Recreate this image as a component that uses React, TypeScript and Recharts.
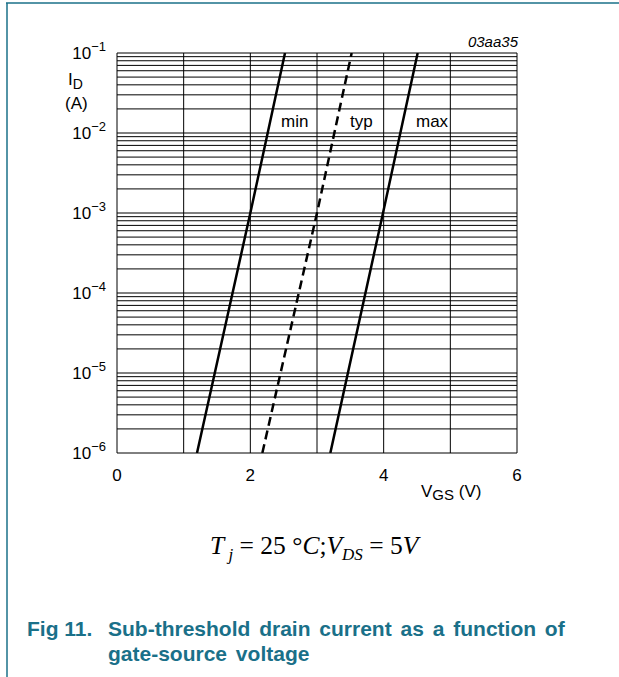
import React from 'react';
import { LineChart, Line, XAxis, YAxis, CartesianGrid } from 'recharts';

const minCurve = [
  { vgs: 1.2, id: 1e-6 },
  { vgs: 2.0, id: 1e-3 },
  { vgs: 2.52, id: 1e-1 },
];
const typCurve = [
  { vgs: 2.18, id: 1e-6 },
  { vgs: 3.0, id: 1e-3 },
  { vgs: 3.52, id: 1e-1 },
];
const maxCurve = [
  { vgs: 3.2, id: 1e-6 },
  { vgs: 3.99, id: 1e-3 },
  { vgs: 4.51, id: 1e-1 },
];

const xTicks = [0, 1, 2, 3, 4, 5, 6];
const xLabelTicks = [0, 2, 4, 6];
const decades = [-6, -5, -4, -3, -2, -1];
const mantissas = [1, 2, 3, 4, 5, 6, 7, 8, 9];
const yTicks: number[] = [];
decades.forEach((e) => {
  mantissas.forEach((m) => {
    if (e === -1 && m > 1) return;
    yTicks.push(Number((m * Math.pow(10, e)).toPrecision(3)));
  });
});

const FONT = 'Liberation Sans, Arial, sans-serif';
const TEAL = '#1a7089';

const YTick = (props: any) => {
  const { x, y, payload } = props;
  const v = payload.value;
  const lg = Math.log10(v);
  if (Math.abs(lg - Math.round(lg)) > 1e-6) return null;
  return (
    <text x={x - 3} y={y + 6} textAnchor="end" fontFamily={FONT} fontSize={17} fill="#000">
      10<tspan dy={-8} fontSize={13}>{'\u2212' + Math.abs(Math.round(lg))}</tspan>
    </text>
  );
};

const XTick = (props: any) => {
  const { x, y, payload } = props;
  if (!xLabelTicks.includes(payload.value)) return null;
  return (
    <text x={x} y={y + 20} textAnchor="middle" fontFamily={FONT} fontSize={17} fill="#000">
      {payload.value}
    </text>
  );
};

export default function App() {
  return (
    <div style={{ position: 'absolute', left: 0, top: 0, width: 619, height: 677, background: '#fff' }}>
      <LineChart
        width={619}
        height={500}
        margin={{ top: 53, right: 102, bottom: 17, left: 57 }}
        style={{ position: 'absolute', left: 0, top: 0 }}
      >
        <CartesianGrid stroke="#000" strokeWidth={1} />
        <XAxis
          dataKey="vgs"
          type="number"
          domain={[0, 6]}
          ticks={xTicks}
          tick={<XTick />}
          tickLine={false}
          axisLine={false}
          height={30}
          interval={0}
        />
        <YAxis
          dataKey="id"
          type="number"
          scale="log"
          domain={[1e-6, 1e-1]}
          allowDataOverflow
          ticks={yTicks}
          tick={<YTick />}
          tickLine={false}
          axisLine={false}
          width={60}
          interval={0}
        />
        <Line data={minCurve} dataKey="id" stroke="#000" strokeWidth={2.5} dot={false} isAnimationActive={false} type="linear" />
        <Line data={typCurve} dataKey="id" stroke="#000" strokeWidth={2.5} strokeDasharray="9 5" dot={false} isAnimationActive={false} type="linear" />
        <Line data={maxCurve} dataKey="id" stroke="#000" strokeWidth={2.5} dot={false} isAnimationActive={false} type="linear" />
      </LineChart>
      <svg width={619} height={677} style={{ position: 'absolute', left: 0, top: 0, pointerEvents: 'none' }}>
        <line x1={6} y1={3} x2={619} y2={3} stroke={TEAL} strokeWidth={1.5} />
        <line x1={7} y1={3} x2={7} y2={677} stroke={TEAL} strokeWidth={1.5} />
        <text x={518} y={47} textAnchor="end" fontFamily={FONT} fontSize={15} fontStyle="italic" fill="#000">03aa35</text>
        <text x={68} y={85} fontFamily={FONT} fontSize={17} fill="#000">
          I<tspan dy={4} fontSize={14}>D</tspan>
        </text>
        <text x={65} y={109} fontFamily={FONT} fontSize={17} fill="#000">(A)</text>
        <text x={281} y={127} fontFamily={FONT} fontSize={17} fill="#000">min</text>
        <text x={350} y={127} fontFamily={FONT} fontSize={17} fill="#000">typ</text>
        <text x={416} y={127} fontFamily={FONT} fontSize={17} fill="#000">max</text>
        <text x={421} y={497} fontFamily={FONT} fontSize={17} fill="#000">
          V<tspan dy={3} fontSize={15}>GS</tspan><tspan dy={-3}> (V)</tspan>
        </text>
        <text x={210} y={554} fontFamily="Liberation Serif, Times New Roman, serif" fontSize={25.5} fill="#000">
          <tspan fontStyle="italic">T</tspan>
          <tspan dy={6} fontSize={17} fontStyle="italic"> j</tspan>
          <tspan dy={-6}> = 25 °</tspan>
          <tspan fontStyle="italic">C</tspan>
          <tspan>;</tspan>
          <tspan fontStyle="italic">V</tspan>
          <tspan dy={6} fontSize={17} fontStyle="italic">DS</tspan>
          <tspan dy={-6}> = 5</tspan>
          <tspan fontStyle="italic">V</tspan>
        </text>
        <text x={27} y={636} fontFamily={FONT} fontSize={21} fontWeight="bold" fill={TEAL}>Fig 11.</text>
        <text x={108} y={636} fontFamily={FONT} fontSize={21} fontWeight="bold" fill={TEAL} wordSpacing={3}>Sub-threshold drain current as a function of</text>
        <text x={108} y={661} fontFamily={FONT} fontSize={21} fontWeight="bold" fill={TEAL} wordSpacing={3}>gate-source voltage</text>
      </svg>
    </div>
  );
}
